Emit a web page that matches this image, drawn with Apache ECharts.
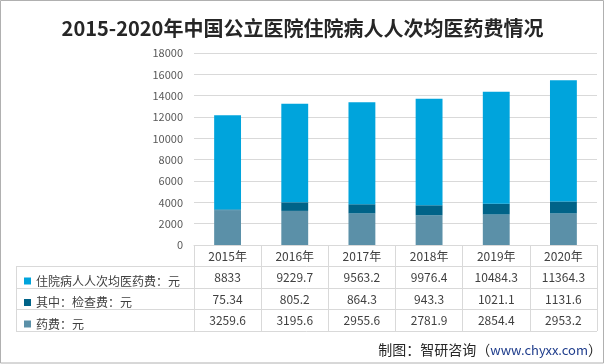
<!DOCTYPE html>
<html><head><meta charset="utf-8">
<script src="https://cdn.jsdelivr.net/npm/echarts@6/dist/echarts.min.js"></script>
<style>html,body{margin:0;padding:0;background:#fff}#c{width:605px;height:364px}</style>
</head><body><div id="c"></div>
<script>
const categories = ['2015年','2016年','2017年','2018年','2019年','2020年'];
const seriesNames = ['住院病人人次均医药费：元','其中：检查费：元','药费：元'];
const avgCost = [8833, 9229.7, 9563.2, 9976.4, 10484.3, 11364.3];
const examCost = [75.34, 805.2, 864.3, 943.3, 1021.1, 1131.6];
const drugCost = [3259.6, 3195.6, 2955.6, 2781.9, 2854.4, 2953.2];
const yTicks = [0, 2000, 4000, 6000, 8000, 10000, 12000, 14000, 16000, 18000];

const colors = {top:'#00A4DC', mid:'#006388', bot:'#5B90A8'};
const font = '"Noto Sans CJK SC", "Noto Sans", sans-serif';
const txt = '#404040';
const lineC = '#d9d9d9';

const chart = echarts.init(document.getElementById('c'), null, {renderer:'canvas'});
const rowVals = [avgCost, examCost, drugCost];
const rowOffsets = [21.5, 43, 64.5];

const xAxes = [{
  type:'category', data:categories, gridIndex:0, position:'bottom',
  axisLine:{show:true, lineStyle:{color:lineC, width:1}},
  axisTick:{show:true, length:86, lineStyle:{color:lineC}},
  axisLabel:{color:txt, fontSize:12, fontFamily:font, margin:5}
}];
rowVals.forEach((arr,i)=>{
  xAxes.push({
    type:'category', data:categories, gridIndex:0, position:'bottom', offset:rowOffsets[i],
    axisLine:{show:false}, axisTick:{show:false},
    axisLabel:{color:txt, fontSize:12, fontFamily:font, margin:5,
      formatter:(v,idx)=>String(arr[idx])}
  });
});

chart.setOption({
  animation:false,
  backgroundColor:'#fff',
  title:{text:'2015-2020年中国公立医院住院病人人次均医药费情况', left:'center', top:13,
    textStyle:{fontFamily:font, fontSize:20, fontWeight:'bold', color:'#262626'}},
  legend:{orient:'vertical', left:19, top:269, itemWidth:7, itemHeight:7, itemGap:7.5,
    icon:'rect', data:seriesNames, selectedMode:false,
    textStyle:{fontFamily:font, fontSize:12, color:txt, lineHeight:14}},
  grid:{left:194, right:8, top:53, bottom:119, containLabel:false},
  xAxis:xAxes,
  yAxis:{type:'value', min:yTicks[0], max:yTicks[yTicks.length-1], interval:2000,
    axisLine:{show:false}, axisTick:{show:false},
    axisLabel:{color:'#595959', fontSize:11, fontFamily:font, margin:11, formatter:v=>String(v)},
    splitLine:{lineStyle:{color:lineC, width:1}}},
  series:[
    {name:seriesNames[2], type:'bar', stack:'s', data:drugCost, barWidth:'40%', itemStyle:{color:colors.bot}},
    {name:seriesNames[1], type:'bar', stack:'s', data:examCost, barWidth:'40%', itemStyle:{color:colors.mid}},
    {name:seriesNames[0], type:'bar', stack:'s', data:avgCost, barWidth:'40%', itemStyle:{color:colors.top}}
  ],
  graphic:[
    {type:'line', shape:{x1:16, y1:266.5, x2:597, y2:266.5}, style:{stroke:lineC, lineWidth:1}},
    {type:'line', shape:{x1:16, y1:288.5, x2:597, y2:288.5}, style:{stroke:lineC, lineWidth:1}},
    {type:'line', shape:{x1:16, y1:309.5, x2:597, y2:309.5}, style:{stroke:lineC, lineWidth:1}},
    {type:'line', shape:{x1:16, y1:331.5, x2:597, y2:331.5}, style:{stroke:lineC, lineWidth:1}},
    {type:'line', shape:{x1:16.5, y1:266, x2:16.5, y2:331}, style:{stroke:lineC, lineWidth:1}},
    {type:'rect', shape:{x:0.5, y:0.5, width:603, height:362.5}, style:{fill:null, stroke:'#b0b0b0', lineWidth:1}},
    {type:'text', right:3, top:343, style:{
      text:'制图：智研咨询（{u|www.chyxx.com}）',
      font:'14px "Noto Sans CJK SC", sans-serif', fill:'#262626',
      rich:{u:{fill:'#1F3D8C', fontSize:13, fontFamily:font}}}}
  ]
});
</script></body></html>
